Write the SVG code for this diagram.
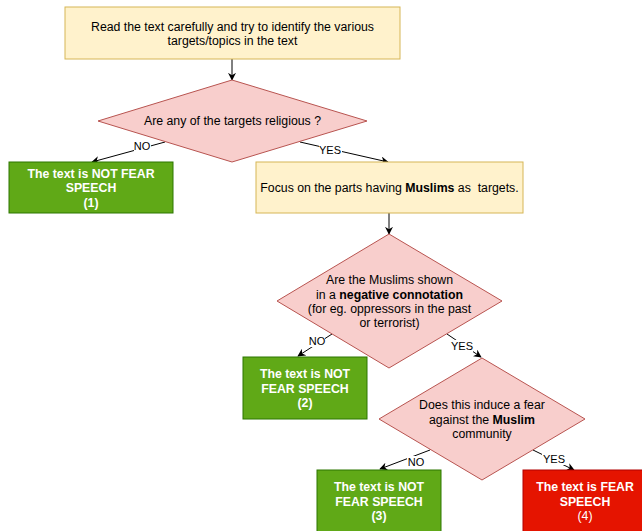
<svg xmlns="http://www.w3.org/2000/svg" width="642" height="531" viewBox="0 0 642 531">
<style>
text{font-family:"Liberation Sans",Arial,sans-serif;font-size:12.3px;text-anchor:middle;fill:#000}
.note{fill:#fff2cc;stroke:#d6b656;stroke-width:1}
.dec{fill:#f8cecc;stroke:#b85450;stroke-width:1}
.no{fill:#60a917;stroke:#2d7600;stroke-width:1}
.fear{fill:#e51400;stroke:#b20000;stroke-width:1}
.w{fill:#ffffff;font-weight:bold}
.wn{fill:#ffffff}
.edge{fill:none;stroke:#000;stroke-width:1;marker-end:url(#arr)}
.lbl{font-size:11px}
.lblbg{fill:#ffffff}
</style>
<defs>
<marker id="arr" viewBox="0 0 10 10" refX="9" refY="5" markerWidth="8" markerHeight="8" orient="auto" markerUnits="userSpaceOnUse">
<path d="M0,0 L10,5 L0,10 L3,5 z" fill="#000"/>
</marker>
</defs>
<g id="connectors">
<path class="edge" d="M232,59 L232,80"/>
<path class="edge" d="M165,142 L92,162"/>
<path class="edge" d="M300,142 L388,162"/>
<path class="edge" d="M389,213 L389,234"/>
<path class="edge" d="M332,334 L298,356"/>
<path class="edge" d="M447,334 L481,357"/>
<path class="edge" d="M430,450 L380,469"/>
<path class="edge" d="M533,450 L574,470"/>
<rect class="lblbg" x="134" y="139" width="17" height="12"/>
<text class="lbl" x="142" y="150">NO</text>
<rect class="lblbg" x="319" y="144" width="23" height="12"/>
<text class="lbl" x="330" y="154">YES</text>
<rect class="lblbg" x="308" y="335" width="17" height="12"/>
<text class="lbl" x="317" y="345">NO</text>
<rect class="lblbg" x="450" y="340" width="23" height="12"/>
<text class="lbl" x="462" y="350">YES</text>
<rect class="lblbg" x="407" y="456" width="17" height="12"/>
<text class="lbl" x="416" y="466">NO</text>
<rect class="lblbg" x="542" y="453" width="23" height="12"/>
<text class="lbl" x="554" y="463">YES</text>
</g>
<g id="read">
<rect class="note" x="65" y="7" width="335" height="52"/>
<text x="232.5" y="31">Read the text carefully and try to identify the various</text>
<text x="232.5" y="45">targets/topics in the text</text>
</g>
<g id="religious">
<polygon class="dec" points="232,80 367,121 232,162 98,121"/>
<text x="232.5" y="125">Are any of the targets religious ?</text>
</g>
<g id="notfear1">
<rect class="no" x="9" y="162" width="164" height="51"/>
<text class="w" x="91" y="178">The text is NOT FEAR</text>
<text class="w" x="91" y="192">SPEECH</text>
<text class="w" x="91" y="207">(1)</text>
</g>
<g id="focus">
<rect class="note" x="256" y="162" width="267" height="51"/>
<text x="389.5" y="192">Focus on the parts having <tspan font-weight="bold">Muslims</tspan> as&#160; targets.</text>
</g>
<g id="negative">
<polygon class="dec" points="389,234 502,301 389,368 277,301"/>
<text x="389.5" y="284">Are the Muslims shown</text>
<text x="389.5" y="299">in a <tspan font-weight="bold">negative connotation</tspan></text>
<text x="389.5" y="313">(for eg. oppressors in the past</text>
<text x="389.5" y="327">or terrorist)</text>
</g>
<g id="notfear2">
<rect class="no" x="243" y="357" width="124" height="62"/>
<text class="w" x="305" y="378">The text is NOT</text>
<text class="w" x="305" y="393">FEAR SPEECH</text>
<text class="w" x="305" y="407">(2)</text>
</g>
<g id="induce">
<polygon class="dec" points="482,358 585,419 482,480 379,419"/>
<text x="482" y="409">Does this induce a fear</text>
<text x="482" y="424">against the <tspan font-weight="bold">Muslim</tspan></text>
<text x="482" y="438">community</text>
</g>
<g id="notfear3">
<rect class="no" x="317" y="470" width="124" height="70"/>
<text class="w" x="379" y="491">The text is NOT</text>
<text class="w" x="379" y="506">FEAR SPEECH</text>
<text class="w" x="379" y="520">(3)</text>
</g>
<g id="fear4">
<rect class="fear" x="523" y="470" width="124" height="70"/>
<text class="w" x="585" y="491">The text is FEAR</text>
<text class="w" x="585" y="506">SPEECH</text>
<text class="wn" x="585" y="520">(4)</text>
</g>
</svg>
